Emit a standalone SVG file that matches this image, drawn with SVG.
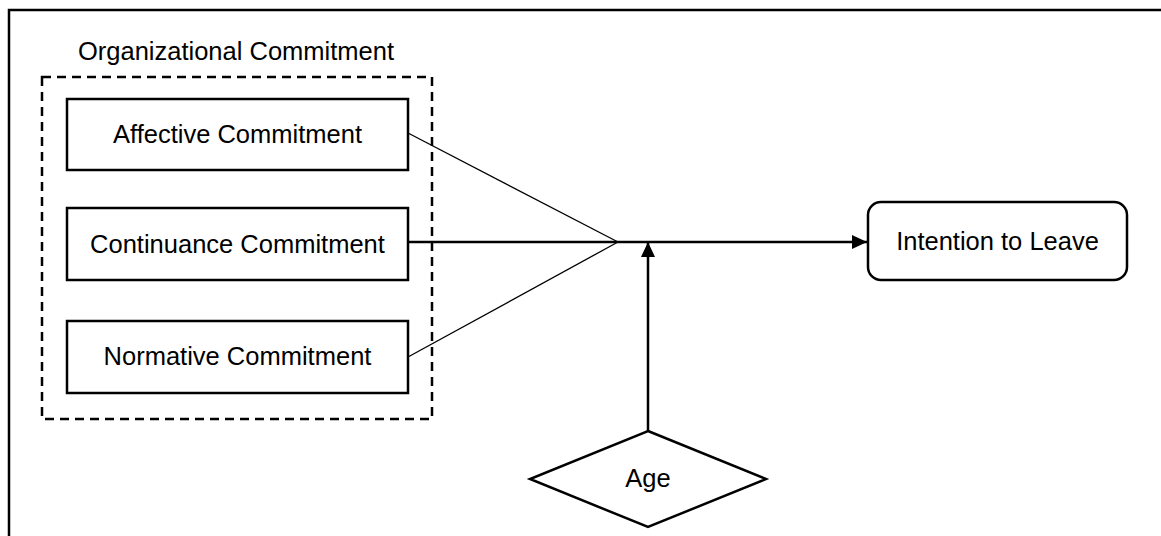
<svg xmlns="http://www.w3.org/2000/svg" width="1161" height="536" viewBox="0 0 1161 536">
  <style>
    .box { fill: #ffffff; stroke: #000000; stroke-width: 2.5; }
    .group { fill: none; stroke: #000000; stroke-width: 2.5; stroke-dasharray: 9 6; }
    .label { font-family: "Liberation Sans", Arial, sans-serif; font-size: 25.5px; fill: #000000; text-anchor: middle; }
    .thin { fill: none; stroke: #000000; stroke-width: 1.3; }
    .thick { fill: none; stroke: #000000; stroke-width: 2.5; }
  </style>
  <defs>
    <marker id="arrow" markerWidth="15" markerHeight="14" refX="15" refY="7" orient="auto" markerUnits="userSpaceOnUse">
      <path d="M0,0 L15,7 L0,14 Z" fill="#000000"/>
    </marker>
  </defs>

  <rect x="0" y="0" width="1161" height="536" fill="#ffffff"/>
  <!-- outer frame -->
  <path d="M9,545 L9,10 L1170,10" fill="none" stroke="#000000" stroke-width="2.5"/>

  <!-- construct group -->
  <g id="organizational-commitment">
    <text class="label" x="236" y="60">Organizational Commitment</text>
    <rect class="group" x="42" y="77" width="390" height="342"/>
  </g>

  <g id="affective">
    <rect class="box" x="67" y="99" width="341" height="71"/>
    <text class="label" x="237.5" y="143">Affective Commitment</text>
  </g>
  <g id="continuance">
    <rect class="box" x="67" y="208" width="341" height="72"/>
    <text class="label" x="237.5" y="253">Continuance Commitment</text>
  </g>
  <g id="normative">
    <rect class="box" x="67" y="321" width="341" height="72"/>
    <text class="label" x="237.5" y="365">Normative Commitment</text>
  </g>

  <g id="intention">
    <rect class="box" x="868" y="202" width="259" height="78" rx="13" ry="13"/>
    <text class="label" x="997.5" y="250">Intention to Leave</text>
  </g>

  <g id="age">
    <polygon class="box" points="648,431 766,479 648,527 530,479"/>
    <text class="label" x="648" y="487">Age</text>
  </g>

  <g id="connectors">
    <line class="thin" x1="408" y1="133" x2="618" y2="242"/>
    <line class="thin" x1="408" y1="357" x2="618" y2="242"/>
    <line class="thick" x1="408" y1="242" x2="867" y2="242" marker-end="url(#arrow)"/>
    <line class="thick" x1="648" y1="431" x2="648" y2="242" marker-end="url(#arrow)"/>
  </g>
</svg>
